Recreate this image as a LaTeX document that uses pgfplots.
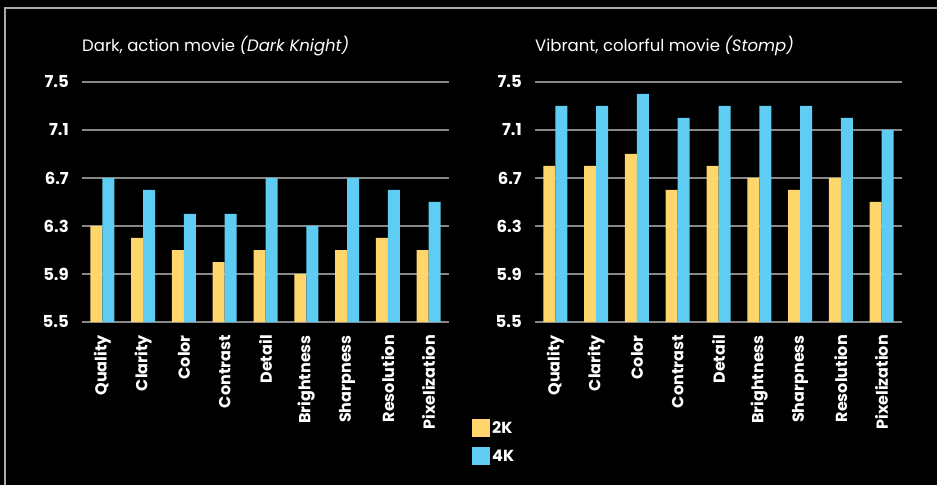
\documentclass[border=0pt]{standalone}
\usepackage{fontspec}
\setmainfont{Poppins}
\usepackage{pgfplots}
\pgfplotsset{compat=1.18}

\definecolor{twok}{RGB}{255,214,107}
\definecolor{fourk}{RGB}{95,204,244}
\definecolor{gridgray}{RGB}{135,135,135}
\definecolor{framegray}{RGB}{170,170,170}

\newcommand\fs[1]{\fontsize{#1}{#1}\selectfont}

\pgfplotsset{
  sqlegend/.style={legend image code/.code={\fill[##1] (0pt,-9pt) rectangle (18pt,9pt);}},
  moviechart/.style={
    scale only axis, width=367pt, height=240pt,
    anchor=south west,
    ybar=0pt, bar width=12pt,
    ymin=5.5, ymax=7.5, ytick={5.5,5.9,6.3,6.7,7.1,7.5},
    xmin=-0.5, xmax=8.5, xtick={0,...,8},
    xticklabels={Quality,Clarity,Color,Contrast,Detail,Brightness,Sharpness,Resolution,Pixelization},
    axis line style={draw=none},
    major tick length=0pt,
    ymajorgrids, grid style={gridgray, line width=2pt},
    /pgf/number format/.cd, fixed, fixed zerofill, precision=1, assume math mode=true,
    /pgfplots/.cd,
    yticklabel style={font=\fs{16.5}\bfseries, text=white, anchor=east, inner sep=0pt, xshift=-13pt},
    xticklabel style={font=\fs{16}\bfseries, text=white, rotate=90, anchor=east, inner sep=0pt, xshift=-13pt},
    title style={at={(0,1)}, anchor=base west, yshift=24pt, inner sep=0pt, font=\fs{16.5}, text=white},
  },
}

\begin{document}
\begin{tikzpicture}
\path[use as bounding box, fill=black] (0,0) rectangle (937pt,485pt);
\draw[framegray, line width=1.5pt] (5pt,0pt) -- (5pt,477pt) -- (937pt,477pt);

\begin{axis}[moviechart, at={(82pt,163pt)},
  title={Dark, action movie \textit{(Dark Knight)}}]
\addplot[fill=twok, draw=none] coordinates {
  (0,6.3) (1,6.2) (2,6.1) (3,6.0) (4,6.1) (5,5.9) (6,6.1) (7,6.2) (8,6.1)};
\addplot[fill=fourk, draw=none] coordinates {
  (0,6.7) (1,6.6) (2,6.4) (3,6.4) (4,6.7) (5,6.3) (6,6.7) (7,6.6) (8,6.5)};
\end{axis}

\begin{axis}[moviechart, at={(535pt,163pt)},
  title={Vibrant, colorful movie \textit{(Stomp)}},
  legend style={at={(-0.1717,-0.404)}, anchor=north west, draw=none, fill=none,
    text=white, font=\fs{16}\bfseries, inner sep=0pt, row sep=10pt,
    legend cell align=left}]
\addplot[fill=twok, draw=none, sqlegend] coordinates {
  (0,6.8) (1,6.8) (2,6.9) (3,6.6) (4,6.8) (5,6.7) (6,6.6) (7,6.7) (8,6.5)};
\addplot[fill=fourk, draw=none, sqlegend] coordinates {
  (0,7.3) (1,7.3) (2,7.4) (3,7.2) (4,7.3) (5,7.3) (6,7.3) (7,7.2) (8,7.1)};
\legend{2K,4K}
\end{axis}
\end{tikzpicture}
\end{document}
